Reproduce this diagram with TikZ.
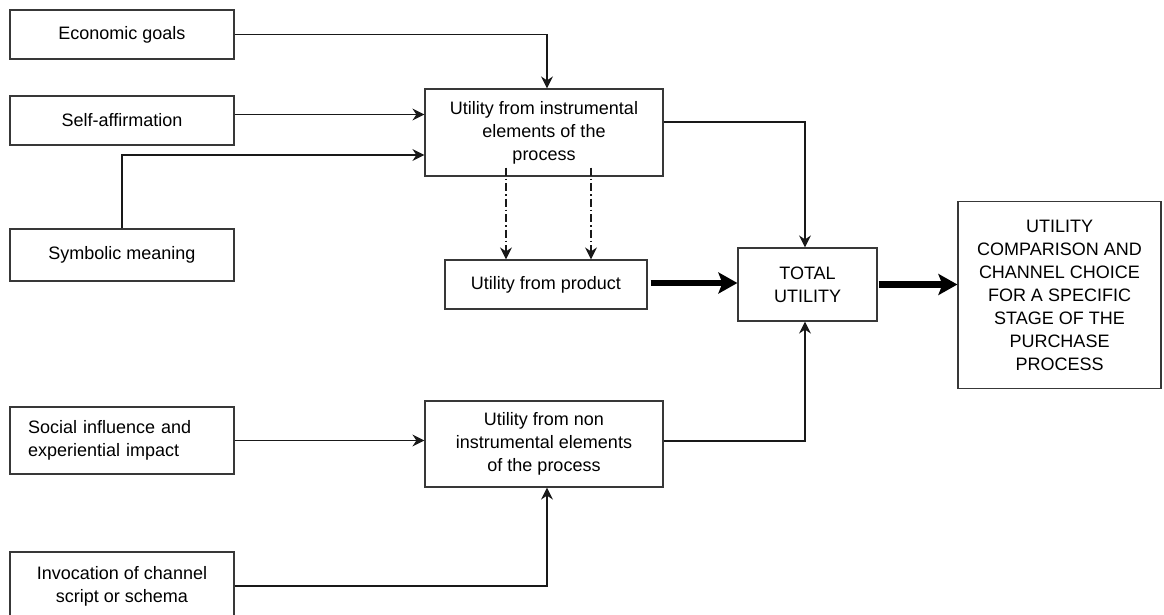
\documentclass[tikz,border=0pt]{standalone}
\usepackage{fontspec}
\setmainfont{Liberation Sans}
\usetikzlibrary{arrows.meta}

\begin{document}
\begin{tikzpicture}[x=1pt,y=-1pt,
    box/.style={draw=black!78, line width=1.2pt, inner sep=0pt, align=center,
      font=\fontsize{18}{23}\selectfont},
    arr/.style={line width=1.3pt, draw=black!90, -{Stealth[length=12pt,width=12pt,inset=4pt]}},
    bigarr/.style={line width=6.5pt, -{Stealth[length=19pt,width=21pt,inset=4pt]}},
    dd/.style={arr, dash pattern=on 8pt off 3pt on 1.5pt off 3pt}]
      \useasboundingbox (0,0) rectangle (1164,614);
      % left column
      \node[box, minimum width=224pt, minimum height=49pt] (eco) at (122,34.5) {Economic goals};
      \node[box, minimum width=224pt, minimum height=49pt] (self) at (122,120.5) {Self-affirmation};
      \node[box, minimum width=224pt, minimum height=52pt] (sym) at (122,255) {Symbolic meaning};
      \node[box, minimum width=224pt, minimum height=67pt, text width=188pt, align=left] (social) at (122,440.5) {Social influence  and\\experiential  impact};
      \node[box, minimum width=224pt, minimum height=68pt] (invoc) at (122,586) {Invocation  of channel\\script or schema};
      % middle
      \node[box, minimum width=238pt, minimum height=87pt] (instr) at (544,132.5) {Utility  from instrumental\\elements  of the\\process};
      \node[box, minimum width=202pt, minimum height=49pt] (product) at (546,284.5) {Utility  from product};
      \node[box, minimum width=238pt, minimum height=86pt] (nonins) at (544,444) {Utility  from non\\instrumental  elements\\of the process};
      \node[box, minimum width=139pt, minimum height=73pt] (total) at (807.5,284.5) {TOTAL\\UTILITY};
      \node[box, minimum width=203pt, minimum height=187pt] (choice) at (1059.5,295) {UTILITY\\COMPARISON AND\\CHANNEL CHOICE\\FOR A SPECIFIC\\STAGE OF THE\\PURCHASE\\PROCESS};
      % connectors
      \draw[arr] (eco.east) -| ([xshift=3pt]instr.north);
      \draw[arr] ([yshift=6pt]self.east) -- ([yshift=6pt]self.east -| instr.west);
      \draw[arr] (sym.north) |- ([yshift=-22.5pt]instr.west);
      \draw[arr] ([yshift=10.5pt]instr.east) -| ([xshift=-2.5pt]total.north);
      \draw[dd] ([xshift=-38pt,yshift=9pt]instr.south) -- ([xshift=-38pt]instr.south |- product.north);
      \draw[dd] ([xshift=47pt,yshift=9pt]instr.south) -- ([xshift=47pt]instr.south |- product.north);
      \draw[bigarr] ([xshift=3pt,yshift=1.5pt]product.east) -- ([yshift=1.5pt]product.east -| total.west);
      \draw[bigarr] ([xshift=1pt]total.east) -- (total.east -| choice.west);
      \draw[arr] (social.east) -- (social.east -| nonins.west);
      \draw[arr] ([yshift=3pt]nonins.east) -| ([xshift=-2.5pt]total.south);
      \draw[arr] (invoc.east) -| ([xshift=3pt]nonins.south);
    \end{tikzpicture}
\end{document}
